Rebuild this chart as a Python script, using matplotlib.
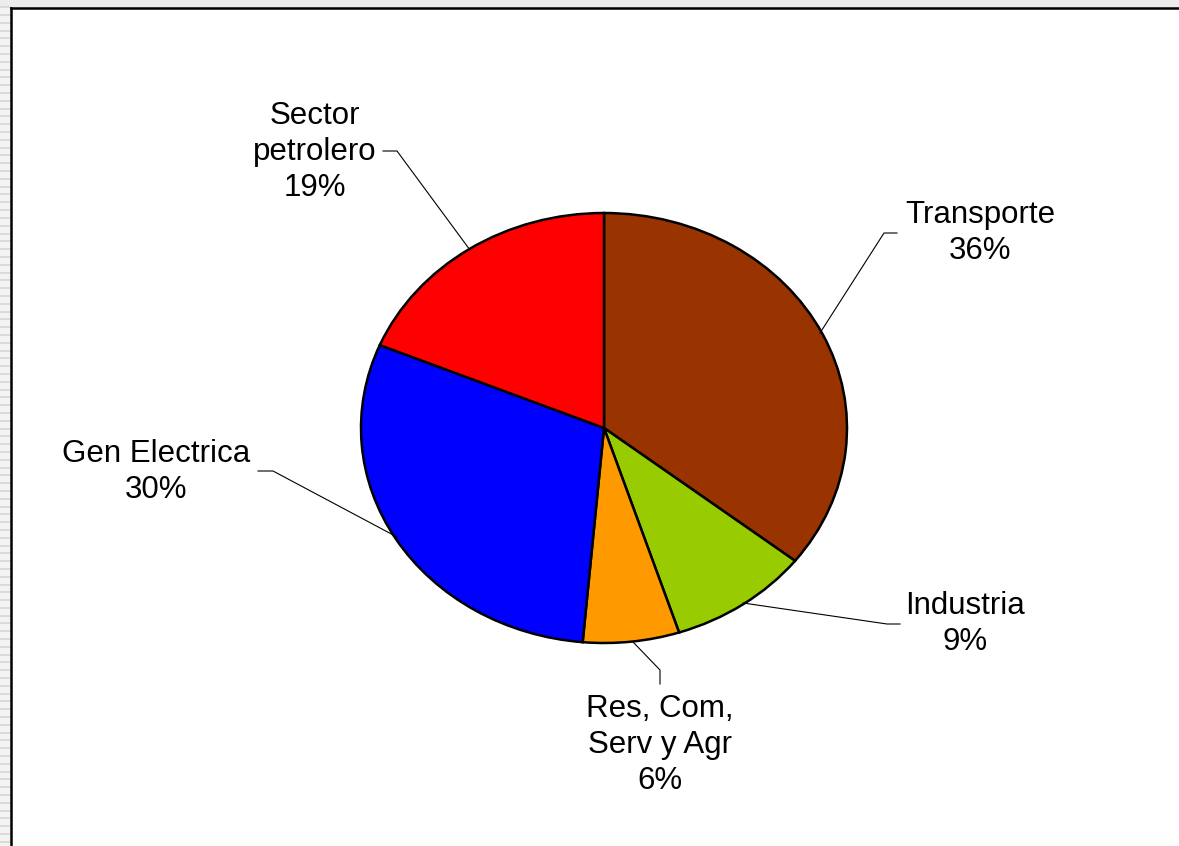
import matplotlib.pyplot as plt
from matplotlib.patches import Rectangle

# emissions share by sector (clockwise from 12 o'clock)
sectors = ['Transporte', 'Industria', 'Res, Com,\nServ y Agr', 'Gen Electrica', 'Sector\npetrolero']
shares = [35.6, 9.4, 6.4, 29.9, 18.7]
colors = ['#993300', '#99CC00', '#FF9900', '#0000FF', '#FF0000']

W, H = 1179, 846
cx, cy = 604, 428      # pie centre in pixels (from top-left)
rx, ry = 243, 215      # pie is a bit squashed


def px(x, y):
    # pixel position -> data coords of the full-figure axes
    return (x - cx) / rx, (cy - y) / ry


plt.rcParams['font.family'] = ['Liberation Sans', 'DejaVu Sans']
fig = plt.figure(figsize=(W / 100, H / 100), dpi=100)
fig.patch.set_facecolor('white')

# grey striped strip on the left and top, like the spreadsheet background
fig.patches.append(Rectangle((0, 0), 10 / W, 1, transform=fig.transFigure,
                             facecolor='#f3f3f3', edgecolor='none', zorder=0))
fig.patches.append(Rectangle((0, 1 - 8 / H), 1, 8 / H, transform=fig.transFigure,
                             facecolor='#ececec', edgecolor='none', zorder=0))
y = 7.3
while y < H:
    fig.add_artist(plt.Line2D([0, 10 / W], [1 - y / H] * 2, transform=fig.transFigure,
                              color='#d6d6d6', lw=1.2))
    y += 7.8
fig.add_artist(plt.Line2D([10.5 / W, 10.5 / W], [0, 1 - 8.5 / H], transform=fig.transFigure,
                          color='black', lw=1.8))
fig.add_artist(plt.Line2D([10.5 / W, 1], [1 - 8.5 / H] * 2, transform=fig.transFigure,
                          color='black', lw=1.8))

ax = fig.add_axes([0, 0, 1, 1])
ax.pie(shares, colors=colors, startangle=90, counterclock=False, radius=1,
       wedgeprops=dict(edgecolor='black', linewidth=1.8))
ax.set_aspect('auto')
ax.set_xlim(-cx / rx, (W - cx) / rx)
ax.set_ylim(-(H - cy) / ry, cy / ry)
ax.axis('off')

# label text centres and leader lines (pixels)
label_pos = [(980, 233), (965, 624), (660, 745), (156, 472), (315, 152)]
leaders = [
    [(820, 333), (884, 233), (897, 233)],
    [(743, 603), (887, 624), (900, 624)],
    [(633, 642), (660, 670), (660, 684)],
    [(397, 537), (273, 471), (258, 471)],
    [(470, 250), (397, 151), (383, 151)],
]

for name, val, pos, pts in zip(sectors, shares, label_pos, leaders):
    xs, ys = zip(*[px(*p) for p in pts])
    ax.plot(xs, ys, color='black', lw=0.8, clip_on=False)
    tx, ty = px(*pos)
    ax.text(tx, ty, f'{name}\n{round(val)}%', ha='center', va='center',
            fontsize=22.5, linespacing=1.25)

fig.savefig('out.png', dpi=100)
